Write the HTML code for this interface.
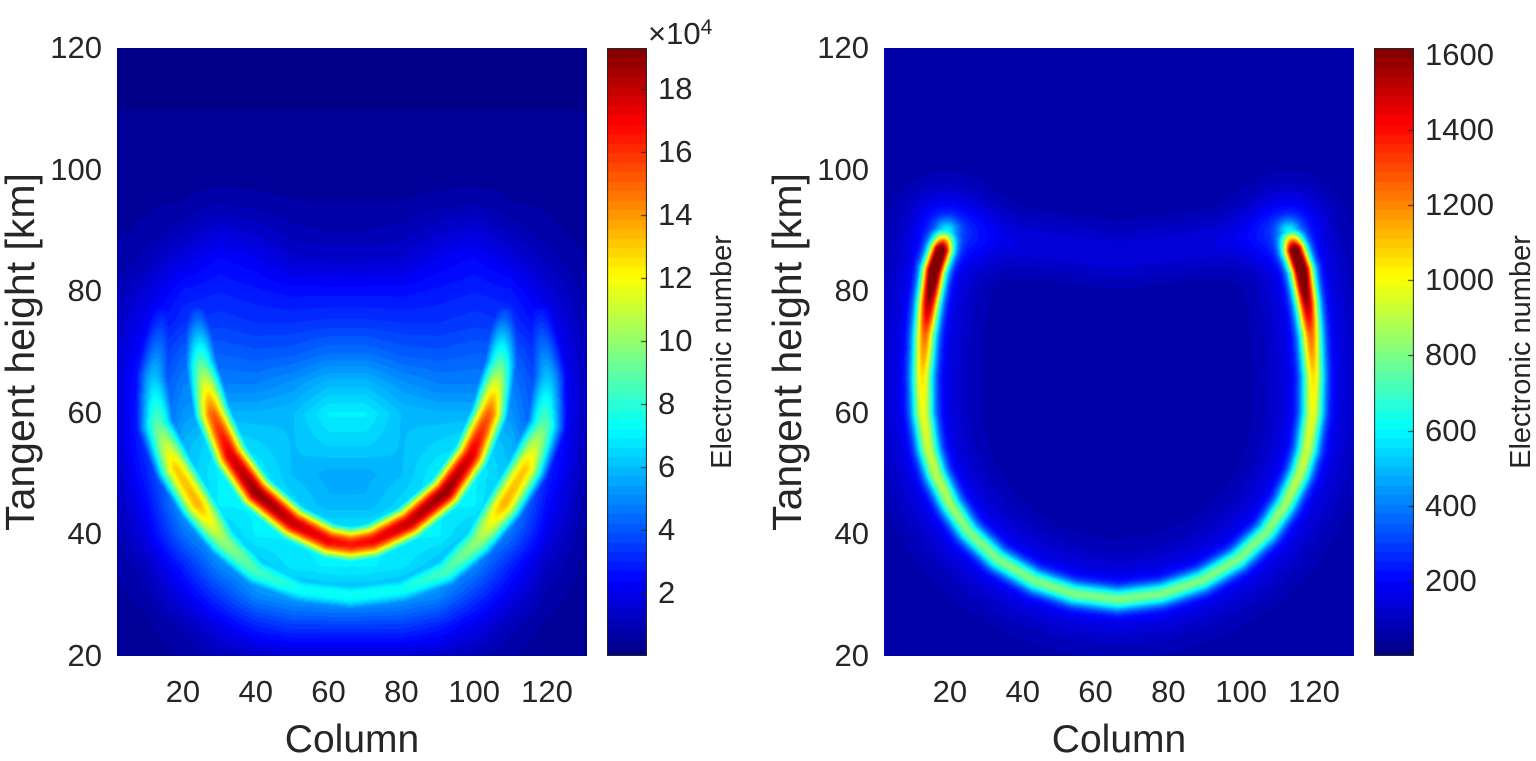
<!DOCTYPE html>
<html><head><meta charset="utf-8"><style>
body{margin:0;background:#fff;width:1536px;height:756px;overflow:hidden;position:relative;font-family:"Liberation Sans",sans-serif;color:#262626}
.t{position:absolute;font-size:31px;line-height:32px;white-space:nowrap}
.xt{transform:translateX(-50%)}
.yt{transform:translateY(-50%);text-align:right}
.ct{transform:translateY(-50%)}
.ttl{position:absolute;font-size:39px;line-height:40px;white-space:nowrap}
.cb{position:absolute;font-size:29px;line-height:30px;white-space:nowrap;transform:translate(-50%,-50%) rotate(-90deg)}
canvas{position:absolute}
</style></head><body>
<canvas id="c1" width="470" height="608" style="left:117px;top:48px"></canvas>
<canvas id="c2" width="470" height="608" style="left:884px;top:48px"></canvas>
<canvas id="cb1" width="40" height="608" style="left:607px;top:48px"></canvas>
<canvas id="cb2" width="40" height="608" style="left:1374px;top:48px"></canvas>
<div id="labels"></div>
<div class="ttl" style="left:352px;top:720px;transform:translateX(-50%)">Column</div>
<div class="ttl" style="left:1119px;top:720px;transform:translateX(-50%)">Column</div>
<div class="ttl" style="left:20px;top:352px;font-size:41px;transform:translate(-50%,-50%) rotate(-90deg)">Tangent height [km]</div>
<div class="ttl" style="left:787px;top:352px;font-size:41px;transform:translate(-50%,-50%) rotate(-90deg)">Tangent height [km]</div>
<div class="cb" style="left:722px;top:352px">Electronic number</div>
<div class="cb" style="left:1521px;top:352px">Electronic number</div>
<div class="t" style="left:648px;top:12px;font-size:31px;line-height:32px">×10<sup style="font-size:21px;vertical-align:10px">4</sup></div>
<script>
// ----- data -----
const xTicks=[20,40,60,80,100,120];
const yTicks=[20,40,60,80,100,120];
const cb1Ticks=[2,4,6,8,10,12,14,16,18];
const cb2Ticks=[200,400,600,800,1000,1200,1400,1600];
const gridX=[0,10,20,30,40,50,60,70,80,90,100,110,120,130];
const gridY=[120,115,110,105,100,95,90,85,80,75,70,65,60,55,50,45,40,35,30,25,20];
const leftValues=[
[0.3,0.3,0.3,0.3,0.3,0.3,0.3,0.3,0.3,0.3,0.3,0.3,0.3,0.3],
[0.3,0.3,0.3,0.3,0.3,0.3,0.3,0.3,0.3,0.3,0.3,0.3,0.3,0.3],
[0.3,0.3,0.3,0.3,0.3,0.3,0.3,0.3,0.3,0.3,0.3,0.3,0.3,0.3],
[0.35,0.35,0.35,0.35,0.35,0.35,0.35,0.35,0.35,0.35,0.35,0.35,0.35,0.35],
[0.4,0.4,0.4,0.4,0.4,0.4,0.4,0.4,0.4,0.4,0.4,0.4,0.4,0.4],
[0.45,0.5,0.6,0.8,0.7,0.6,0.6,0.6,0.6,0.7,0.8,0.6,0.5,0.45],
[0.5,0.7,1.1,1.7,1.4,1.0,0.9,0.9,1.0,1.4,1.7,1.1,0.7,0.5],
[0.6,1.1,1.9,2.5,2.2,1.6,1.5,1.5,1.6,2.2,2.5,1.9,1.1,0.6],
[0.8,1.7,2.8,3.0,2.8,2.6,2.6,2.6,2.6,2.8,3.0,2.8,1.7,0.8],
[1.0,2.3,3.3,3.5,3.3,3.3,3.4,3.4,3.3,3.3,3.5,3.3,2.3,1.0],
[1.2,2.8,4.2,4.2,4.0,4.1,4.5,4.5,4.1,4.0,4.2,4.2,2.8,1.2],
[1.3,3.3,4.8,4.8,4.8,5.2,5.9,5.9,5.2,4.8,4.8,4.8,3.3,1.3],
[1.3,3.4,5.2,5.8,5.8,6.0,7.0,7.0,6.0,5.8,5.8,5.2,3.4,1.3],
[1.2,3.4,5.8,6.8,6.4,6.0,6.4,6.4,6.0,6.4,6.8,5.8,3.4,1.2],
[1.0,3.0,6.0,7.0,7.0,6.0,5.6,5.6,6.0,7.0,7.0,6.0,3.0,1.0],
[0.8,2.5,5.5,7.0,7.0,6.5,5.8,5.8,6.5,7.0,7.0,5.5,2.5,0.8],
[0.6,2.0,4.5,6.0,7.0,7.0,7.0,7.0,7.0,7.0,6.0,4.5,2.0,0.6],
[0.5,1.2,3.0,5.0,6.0,6.8,7.0,7.0,6.8,6.0,5.0,3.0,1.2,0.5],
[0.4,0.8,2.0,3.5,5.0,5.5,5.8,5.8,5.5,5.0,3.5,2.0,0.8,0.4],
[0.3,0.5,1.0,2.0,3.0,3.5,3.5,3.5,3.5,3.0,2.0,1.0,0.5,0.3],
[0.3,0.4,0.6,1.0,1.3,1.5,1.5,1.5,1.5,1.3,1.0,0.6,0.4,0.3]];
// left: main arc (A) and outer arc (B)
const arcAX=[24,25,28,33,40,50,60,66,72,82,92,99,104,107,108];
const arcAY=[76,68,60,53,47,42,39,38.4,39,42,47,53,60,68,76];
const arcAPeak=[4,9,15,17.5,19,18,17,16.5,17,18,19,17.5,15,9,4];
const arcBX=[14,12,13,18,24,31,40,52,66,80,92,101,108,114,119,120,118];
const arcBY=[76,66,58,51,45,39,34,31,30,31,34,39,45,51,58,66,76];
const arcBPeak=[3,6,9,13,13.5,10,8.5,7.5,7.5,7.5,8.5,10,13.5,13,9,6,3];
// right: ring
const ringX=[19,17.5,15.5,14,13,12.3,12.5,14,16,20,25,33,43,54,66,78,89,99,107,112,116,118,119.5,119.7,119,118,116.5,114.5,113];
const ringY=[90,87,83.5,78,73,66,60,54,50,45,40.5,36,32.5,30.3,29.4,30.3,32.5,36,40.5,45,50,54,60,66,73,78,83.5,87,90];
const ringPeak=[300,1500,1620,1350,1050,850,780,720,700,650,600,600,600,600,600,600,600,600,600,650,700,720,780,850,1050,1350,1620,1500,300];
const topArcX=[19,40,66,92,113];
const topArcY=[90,88,86,88,90];
const topArcPeak=[90,90,90,90,90];
const bg2=55;

// ----- axes -----
const X0=1.9,X1=131,Y0=20,Y1=120,W=470,H=608;
const sx=v=>(v-X0)/(X1-X0)*W, sy=v=>H-(v-Y0)/(Y1-Y0)*H;
function jet(t){t=Math.max(0,Math.min(1,t));
 const f=x=>Math.max(0,Math.min(1,1.5-Math.abs(4*t-x)));
 return [f(3)*255,f(2)*255,f(1)*255];}
function poly(xs,ys){return xs.map((v,i)=>[sx(v),sy(ys[i])]);}
function near(pts,pks,px,py){
 let best=1e12,pk=0;
 for(let i=0;i<pts.length-1;i++){
  const [ax,ay]=pts[i],[bx,by]=pts[i+1],dx=bx-ax,dy=by-ay;
  let u=((px-ax)*dx+(py-ay)*dy)/(dx*dx+dy*dy);u=Math.max(0,Math.min(1,u));
  const qx=ax+u*dx-px,qy=ay+u*dy-py,d=qx*qx+qy*qy;
  if(d<best){best=d;pk=pks[i]*(1-u)+pks[i+1]*u;}}
 return [best,pk];}
function draw(id,fn,vmax){
 const c=document.getElementById(id),g=c.getContext('2d'),im=g.createImageData(W,H);
 for(let py=0;py<H;py++)for(let px=0;px<W;px++){
  let t=fn(px,py)/vmax; t=Math.floor(t*64)/64+0.008;
  const col=jet(t),k=(py*W+px)*4;
  im.data[k]=col[0];im.data[k+1]=col[1];im.data[k+2]=col[2];im.data[k+3]=255;}
 g.putImageData(im,0,0);}
const pA=poly(arcAX,arcAY),pB=poly(arcBX,arcBY);
draw('c1',(px,py)=>{
 const x=X0+px/W*(X1-X0), y=Y1-py/H*(Y1-Y0);
 let gi=Math.min(gridX.length-2,Math.max(0,Math.floor((x-gridX[0])/10)));
 let gj=Math.min(gridY.length-2,Math.max(0,Math.floor((gridY[0]-y)/5)));
 const fx=(x-gridX[gi])/(gridX[gi+1]-gridX[gi]), fy=(gridY[gj]-y)/(gridY[gj]-gridY[gj+1]);
 const a=leftValues[gj][gi],b=leftValues[gj][gi+1],c=leftValues[gj+1][gi],d=leftValues[gj+1][gi+1];
 const base=(a*(1-fx)+b*fx)*(1-fy)+(c*(1-fx)+d*fx)*fy;
 const [dA,kA]=near(pA,arcAPeak,px,py),[dB,kB]=near(pB,arcBPeak,px,py);
 const vA=kA*Math.exp(-dA/(2*13*13)), vB=kB*Math.exp(-dB/(2*14*14));
 return Math.max(base,vA+vB*0.5,vB+vA*0.3);},19.3);
const pR=poly(ringX,ringY),pT=poly(topArcX,topArcY);
draw('c2',(px,py)=>{
 const [d,k]=near(pR,ringPeak,px,py),[dt,kt]=near(pT,topArcPeak,px,py);
 return bg2+k*Math.exp(-d/(2*8*8))+150*Math.exp(-d/(2*30*30))+kt*Math.exp(-dt/(2*20*20));},1618);
// colorbars
function bar(id,vmax,ticks){
 const c=document.getElementById(id),g=c.getContext('2d');
 for(let py=0;py<H;py++){let t=Math.floor((1-py/H)*64)/64+0.008;const col=jet(t);
  g.fillStyle=`rgb(${col.map(Math.round)})`;g.fillRect(0,py,40,1);}
 g.strokeStyle='#262626';g.lineWidth=1;g.strokeRect(0.5,0.5,39,H-1);
 ticks.forEach(v=>{const y=Math.round(H-v/vmax*H)+0.5;g.beginPath();g.moveTo(40,y);g.lineTo(34,y);g.stroke();});}
bar('cb1',19.3,cb1Ticks);bar('cb2',1618,cb2Ticks);
// labels
const L=document.getElementById('labels');
function lab(txt,x,y,cls,name){const d=document.createElement('div');d.className='t '+cls;d.textContent=txt;d.style.left=x+'px';d.style.top=y+'px';
 
 
 L.appendChild(d);return d;}
[117,884].forEach(ox=>{
 xTicks.forEach(v=>lab(v,ox+sx(v),676,'xt','x-tick-label'));
 yTicks.forEach(v=>{const d=lab(v,0,48+sy(v),'yt','y-tick-label');d.style.left=(ox-97)+'px';d.style.width='82px';});
});
cb1Ticks.forEach(v=>lab(v,658,48+H-v/19.3*H,'ct','colorbar-tick-label'));
cb2Ticks.forEach(v=>lab(v,1425,48+H-v/1618*H,'ct','colorbar-tick-label'));
</script>
</body></html>
